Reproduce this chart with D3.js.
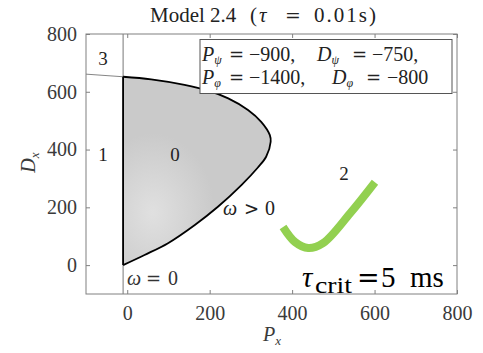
<!DOCTYPE html>
<html>
<head>
<meta charset="utf-8">
<script src="https://cdn.jsdelivr.net/npm/d3@7"></script>
<style>
  html, body { margin: 0; padding: 0; background: #fff; }
  svg { display: block; }
  text { font-family: "Liberation Serif", "DejaVu Serif", serif; }
  .sym { font-family: "DejaVu Serif", serif; }
</style>
</head>
<body>
<svg id="chart" width="483" height="353"></svg>
<script>
// Axis ticks
const xTicks = [0, 200, 400, 600, 800];
const yTicks = [0, 200, 400, 600, 800];

// Stability boundary (P_x, D_x): from the origin round the nose and back to the ω = 0 line
const boundaryP = [-10, 42, 99, 164, 220, 277, 317, 337, 348, 346, 325, 293, 245, 196, 139, 58, -10];
const boundaryD = [0, 35, 76, 139, 202, 277, 338, 375, 427, 450, 496, 537, 577, 604, 624, 643, 652];

// ω = 0 line position and the thin extension of the upper boundary into region 3
const omegaZeroP = -10;
const extensionP = [-100, -10];
const extensionD = [661, 652];

// Green marker curve near region 2
const markP = [378, 407, 439, 475, 541, 601];
const markD = [132, 80, 59, 76, 180, 287];

// Region labels
const regionNames = ["3", "1", "0", "2"];
const regionP = [-59, -59, 116, 526];
const regionD = [693, 360, 360, 295];

const svg = d3.select("#chart");
const x = d3.scaleLinear().domain([-100, 800]).range([86, 457]);
const y = d3.scaleLinear().domain([-100, 800]).range([294, 34]);

// Places a row of text pieces at fixed x offsets (math-style spacing)
function pieces(yBase, size, fill, parts) {
  const t = svg.append("text").attr("y", yBase).attr("font-size", size).attr("fill", fill);
  parts.forEach(p => {
    const s = t.append("tspan").attr("x", p.x).attr("y", yBase).text(p.t);
    if (p.it) s.attr("font-style", "italic");
    if (p.sym) s.attr("class", "sym").attr("font-size", size * 0.9);
    if (p.ls) s.attr("letter-spacing", p.ls);
    if (p.sub) {
      t.append("tspan").attr("font-size", Math.round(size * 0.6)).attr("font-style", "italic")
        .attr("y", yBase + 3).text(p.sub);
    }
  });
  return t;
}

// Title
pieces(22, 21, "#222", [
  { x: 150, t: "Model 2.4" },
  { x: 250, t: "(" },
  { x: 259, t: "\u03c4", it: true },
  { x: 285, t: "=", sym: true },
  { x: 314, t: "0.01s)", ls: 2 }
]);

// Shaded stable region with a lighter patch
const defs = svg.append("defs");
const grad = defs.append("radialGradient").attr("id", "lightPatch")
  .attr("cx", 0.2).attr("cy", 0.72).attr("r", 0.42);
grad.append("stop").attr("offset", "0%").attr("stop-color", "#e0e0e0");
grad.append("stop").attr("offset", "100%").attr("stop-color", "#cacaca");

const pts = boundaryP.map((p, i) => [p, boundaryD[i]]);
const curve = d3.line().x(d => x(d[0])).y(d => y(d[1])).curve(d3.curveCatmullRom.alpha(0.5));

svg.append("path").attr("d", curve(pts) + "Z")
  .attr("fill", "url(#lightPatch)").attr("stroke", "none");

// Thin gray lines: ω = 0 line through the box and the boundary extension
svg.append("line")
  .attr("x1", x(omegaZeroP)).attr("x2", x(omegaZeroP))
  .attr("y1", y(800)).attr("y2", y(-100))
  .attr("stroke", "#777").attr("stroke-width", 1);
svg.append("line")
  .attr("x1", x(extensionP[0])).attr("y1", y(extensionD[0]))
  .attr("x2", x(extensionP[1])).attr("y2", y(extensionD[1]))
  .attr("stroke", "#666").attr("stroke-width", 0.8);

// Boundary outline
svg.append("path").attr("d", curve(pts))
  .attr("fill", "none").attr("stroke", "#000").attr("stroke-width", 1.8);
svg.append("line")
  .attr("x1", x(omegaZeroP)).attr("x2", x(omegaZeroP))
  .attr("y1", y(boundaryD[0])).attr("y2", y(boundaryD[boundaryD.length - 1]))
  .attr("stroke", "#000").attr("stroke-width", 1.8);

// Axes box with inward ticks on all sides
svg.append("rect").attr("x", x(-100)).attr("y", y(800))
  .attr("width", x(800) - x(-100)).attr("height", y(-100) - y(800))
  .attr("fill", "none").attr("stroke", "#808080").attr("stroke-width", 1);

const bottomAxis = d3.axisBottom(x).tickValues(xTicks).tickSizeInner(-4).tickSizeOuter(0).tickPadding(12);
const gB = svg.append("g").attr("transform", `translate(0,${y(-100)})`).call(bottomAxis);
const topAxis = d3.axisTop(x).tickValues(xTicks).tickSizeInner(-4).tickSizeOuter(0).tickFormat("");
const gT = svg.append("g").attr("transform", `translate(0,${y(800)})`).call(topAxis);
const leftAxis = d3.axisLeft(y).tickValues(yTicks).tickSizeInner(-4).tickSizeOuter(0).tickPadding(9);
const gL = svg.append("g").attr("transform", `translate(${x(-100)},0)`).call(leftAxis);
const rightAxis = d3.axisRight(y).tickValues(yTicks).tickSizeInner(-4).tickSizeOuter(0).tickFormat("");
const gR = svg.append("g").attr("transform", `translate(${x(800)},0)`).call(rightAxis);

[gB, gT, gL, gR].forEach(g => {
  g.select(".domain").remove();
  g.selectAll(".tick line").attr("stroke", "#808080");
  g.selectAll(".tick text").attr("font-family", "Liberation Serif, serif")
    .attr("font-size", 20).attr("fill", "#3a3a3a");
});

// Axis labels
svg.append("text").attr("transform", `translate(35,${y(355)}) rotate(-90)`)
  .attr("text-anchor", "middle").attr("font-size", 20).attr("font-style", "italic").attr("fill", "#3a3a3a")
  .html('D<tspan font-size="13" dy="4">x</tspan>');
svg.append("text").attr("x", 272).attr("y", 341)
  .attr("text-anchor", "middle").attr("font-size", 20).attr("font-style", "italic").attr("fill", "#3a3a3a")
  .html('P<tspan font-size="13" dy="4">x</tspan>');

// Parameter legend box
svg.append("rect").attr("x", 200).attr("y", 39.5).attr("width", 252).attr("height", 54)
  .attr("fill", "#fff").attr("stroke", "#555").attr("stroke-width", 1);

pieces(61, 20, "#222", [
  { x: 202, t: "P", it: true, sub: "\u03c8" },
  { x: 229, t: "=", sym: true },
  { x: 249, t: "\u2212900," },
  { x: 317, t: "D", it: true, sub: "\u03c8" },
  { x: 352, t: "=", sym: true },
  { x: 372, t: "\u2212750," }
]);
pieces(84, 20, "#222", [
  { x: 202, t: "P", it: true, sub: "\u03c6" },
  { x: 229, t: "=", sym: true },
  { x: 249, t: "\u22121400," },
  { x: 332, t: "D", it: true, sub: "\u03c6" },
  { x: 366, t: "=", sym: true },
  { x: 387, t: "\u2212800" }
]);

// Region numbers
regionNames.forEach((t, i) => {
  svg.append("text").attr("x", x(regionP[i])).attr("y", y(regionD[i]))
    .attr("text-anchor", "middle").attr("font-size", 19).attr("fill", "#222").text(t);
});

// ω annotations
pieces(215, 20, "#222", [
  { x: 223, t: "\u03c9", it: true },
  { x: 244, t: ">", sym: true },
  { x: 265, t: "0" }
]);
pieces(285, 20, "#333", [
  { x: 127, t: "\u03c9", it: true },
  { x: 146, t: "=", sym: true },
  { x: 168, t: "0" }
]);

// Green marker curve
const markPts = markP.map((p, i) => [p, markD[i]]);
svg.append("path")
  .attr("d", d3.line().x(d => x(d[0])).y(d => y(d[1])).curve(d3.curveCatmullRom.alpha(0.5))(markPts))
  .attr("fill", "none").attr("stroke", "#92d050").attr("stroke-width", 8).attr("stroke-linecap", "butt");

// Critical delay annotation
const crit = svg.append("text").attr("y", 287).attr("font-size", 29).attr("fill", "#000");
crit.append("tspan").attr("x", 302).attr("font-style", "italic").text("\u03c4");
crit.append("tspan").attr("x", 315).attr("y", 293).attr("font-size", 23)
  .attr("textLength", 37).attr("lengthAdjust", "spacingAndGlyphs").text("crit");
crit.append("tspan").attr("x", 357).attr("y", 287).attr("class", "sym").attr("font-size", 27).text("=");
crit.append("tspan").attr("x", 381).attr("y", 287).text("5");
crit.append("tspan").attr("x", 410).attr("y", 287).text("ms");
</script>
</body>
</html>
